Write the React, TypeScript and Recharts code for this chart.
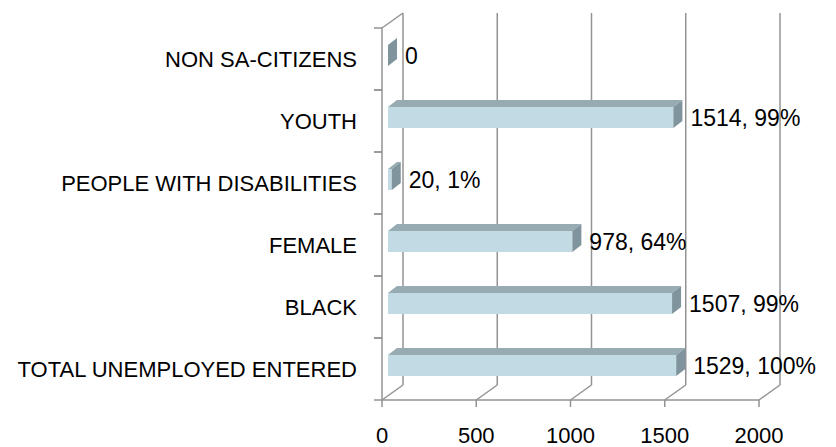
import { BarChart, Bar, XAxis, YAxis, CartesianGrid } from 'recharts';

const CATEGORIES = [
  'NON SA-CITIZENS',
  'YOUTH',
  'PEOPLE WITH DISABILITIES',
  'FEMALE',
  'BLACK',
  'TOTAL UNEMPLOYED ENTERED',
];
const COUNTS = [0, 1514, 20, 978, 1507, 1529];
const VALUE_LABELS = ['0', '1514, 99%', '20, 1%', '978, 64%', '1507, 99%', '1529, 100%'];
const X_TICKS = [0, 500, 1000, 1500, 2000];

const data = CATEGORIES.map((name, i) => ({ name, count: COUNTS[i], label: VALUE_LABELS[i] }));

// 3d look: wall depth and bar depth offsets (px)
const WALL_DX = 21;
const WALL_DY = -15;
const BAR_SHIFT_X = 6;
const BAR_SHIFT_Y = -4;
const BAR_DX = 9;
const BAR_DY = -7;

const LINE = '#939393';
const FONT = '"Liberation Sans", Arial, sans-serif';

function Bar3D(props: any) {
  const { x, y, width, height, payload } = props;
  const fx = x + BAR_SHIFT_X;
  const fy = y + BAR_SHIFT_Y;
  const w = Math.max(width, 0);
  const h = height;
  return (
    <g>
      <rect x={fx} y={fy} width={w} height={h} fill="#c2dae3" />
      <polygon
        points={`${fx},${fy} ${fx + BAR_DX},${fy + BAR_DY} ${fx + w + BAR_DX},${fy + BAR_DY} ${fx + w},${fy}`}
        fill="#97abb3"
      />
      <polygon
        points={`${fx + w},${fy} ${fx + w + BAR_DX},${fy + BAR_DY} ${fx + w + BAR_DX},${fy + h + BAR_DY} ${fx + w},${fy + h}`}
        fill="#7f949c"
      />
      <text
        x={fx + w + BAR_DX + 8}
        y={fy + h / 2}
        dy="0.355em"
        fontSize={23}
        fontFamily={FONT}
        fill="#000"
      >
        {payload.label}
      </text>
    </g>
  );
}

function CategoryTick(props: any) {
  const { x, y, payload } = props;
  const half = payload.offset || 31;
  const lx = x + 17;
  return (
    <g>
      <line x1={lx} x2={lx + 8} y1={y - half} y2={y - half} stroke={LINE} strokeWidth={1.5} />
      <line x1={lx} x2={lx + 8} y1={y + half} y2={y + half} stroke={LINE} strokeWidth={1.5} />
      <text x={x} y={y} dy="0.355em" textAnchor="end" fontSize={22} fontFamily={FONT} fill="#000">
        {payload.value}
      </text>
    </g>
  );
}

function WallLine(props: any) {
  const { x1, y1, y2, index } = props;
  return (
    <g>
      <line x1={x1 + WALL_DX} x2={x1 + WALL_DX} y1={y1 + WALL_DY} y2={y2 + WALL_DY} stroke={LINE} strokeWidth={1.5} />
      <line x1={x1} x2={x1 + WALL_DX} y1={y2} y2={y2 + WALL_DY} stroke={LINE} strokeWidth={1.5} />
      {index === 0 && (
        <line x1={x1} x2={x1 + WALL_DX} y1={y1} y2={y1 + WALL_DY} stroke={LINE} strokeWidth={1.5} />
      )}
    </g>
  );
}

export default function App() {
  return (
    <div style={{ position: 'absolute', left: 0, top: 0, background: '#fff' }}>
      <BarChart
        width={836}
        height={447}
        data={data}
        layout="vertical"
        margin={{ top: 28, right: 77, left: 0, bottom: 0 }}
      >
        <CartesianGrid horizontal={false} vertical={(p: any) => <WallLine {...p} />} />
        <XAxis
          type="number"
          domain={[0, 2000]}
          ticks={X_TICKS}
          height={47}
          stroke={LINE}
          axisLine={{ stroke: LINE, strokeWidth: 1.5 }}
          tickLine={{ stroke: LINE, strokeWidth: 1.5 }}
          tickSize={7}
          tickMargin={20}
          tick={{ fill: '#000', fontSize: 22, fontFamily: FONT }}
        />
        <YAxis
          type="category"
          dataKey="name"
          width={382}
          axisLine={{ stroke: LINE, strokeWidth: 1.5 }}
          tickLine={false}
          tickSize={8}
          tickMargin={17}
          tick={<CategoryTick />}
        />
        <Bar dataKey="count" barSize={21} shape={<Bar3D />} isAnimationActive={false} />
      </BarChart>
    </div>
  );
}
